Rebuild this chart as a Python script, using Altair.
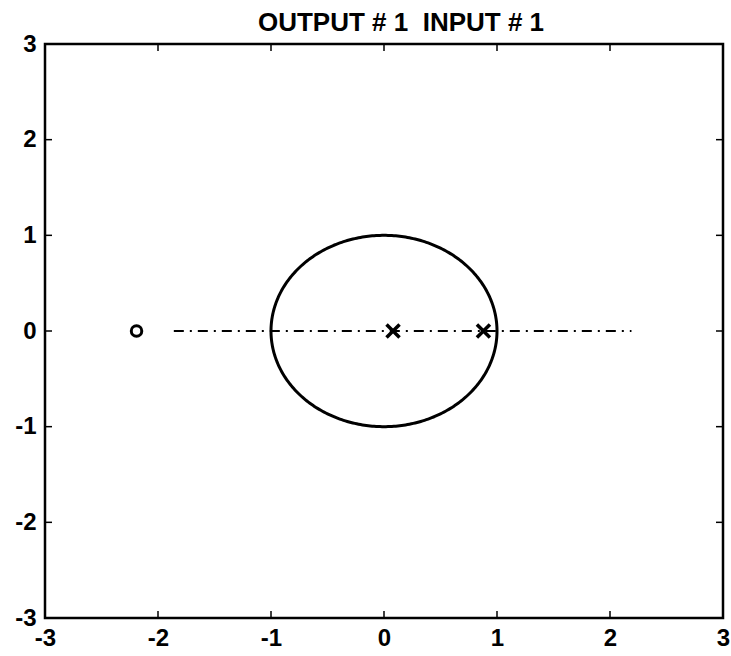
import altair as alt
import numpy as np
import pandas as pd

# Pole-zero map of the transfer function (real part, imaginary part)
pole_re = [0.08, 0.88]
pole_im = [0.0, 0.0]
zero_re = [-2.19]
zero_im = [0.0]

# dash-dot segment drawn along the real axis
segment_re = [-1.86, 2.19]
segment_im = [0.0, 0.0]

tick_values = [-3, -2, -1, 0, 1, 2, 3]
inner_ticks = [-2, -1, 0, 1, 2]

W, H = 678, 574
FONT = "Liberation Sans"

poles = pd.DataFrame({"re": pole_re, "im": pole_im})
zeros = pd.DataFrame({"re": zero_re, "im": zero_im})
segment = pd.DataFrame({"re": segment_re, "im": segment_im, "k": [0, 1]})

# unit circle
theta = np.linspace(0.0, 2.0 * np.pi, 361)
circle = pd.DataFrame({"re": np.cos(theta), "im": np.sin(theta), "k": np.arange(361)})
ticks_df = pd.DataFrame({"v": inner_ticks})

xscale = alt.Scale(domain=[-3, 3], nice=False, zero=False)
yscale = alt.Scale(domain=[-3, 3], nice=False, zero=False)

# plain hyphen-minus in the tick labels
label_expr = "'' + datum.value"

xaxis = alt.Axis(values=tick_values, labelExpr=label_expr, title=None, grid=False, domain=False,
                 ticks=False, labelFont=FONT, labelFontSize=24, labelFontWeight="bold",
                 labelColor="black", labelPadding=8, labelFlush=False, labelOverlap=False)
yaxis = alt.Axis(values=tick_values, labelExpr=label_expr, title=None, grid=False, domain=False,
                 ticks=False, labelFont=FONT, labelFontSize=24, labelFontWeight="bold",
                 labelColor="black", labelPadding=9, labelOverlap=False)

unit_circle = alt.Chart(circle).mark_line(color="black", strokeWidth=3).encode(
    x=alt.X("re:Q", scale=xscale, axis=xaxis),
    y=alt.Y("im:Q", scale=yscale, axis=yaxis),
    order="k:Q",
)

real_line = alt.Chart(segment).mark_line(color="black", strokeWidth=1.8,
                                          strokeDash=[10, 6, 2, 6]).encode(
    x=alt.X("re:Q", scale=xscale),
    y=alt.Y("im:Q", scale=yscale),
    order="k:Q",
)

pole_marks = alt.Chart(poles).mark_point(
    shape="M-1,-1L1,1M1,-1L-1,1", size=170, strokeWidth=3.5, color="black",
    filled=False, opacity=1
).encode(x=alt.X("re:Q", scale=xscale), y=alt.Y("im:Q", scale=yscale))

zero_marks = alt.Chart(zeros).mark_point(
    shape="circle", size=110, strokeWidth=3, color="black", filled=False, opacity=1
).encode(x=alt.X("re:Q", scale=xscale), y=alt.Y("im:Q", scale=yscale))

# inward-pointing ticks on all four sides of the frame
tick_len = 7
bottom_ticks = alt.Chart(ticks_df).mark_rule(color="black", strokeWidth=1.5).encode(
    x=alt.X("v:Q", scale=xscale), y=alt.value(H), y2=alt.value(H - tick_len))
top_ticks = alt.Chart(ticks_df).mark_rule(color="black", strokeWidth=1.5).encode(
    x=alt.X("v:Q", scale=xscale), y=alt.value(0), y2=alt.value(tick_len))
left_ticks = alt.Chart(ticks_df).mark_rule(color="black", strokeWidth=1.5).encode(
    y=alt.Y("v:Q", scale=yscale), x=alt.value(0), x2=alt.value(tick_len))
right_ticks = alt.Chart(ticks_df).mark_rule(color="black", strokeWidth=1.5).encode(
    y=alt.Y("v:Q", scale=yscale), x=alt.value(W), x2=alt.value(W - tick_len))

chart = alt.layer(
    unit_circle, real_line, pole_marks, zero_marks,
    bottom_ticks, top_ticks, left_ticks, right_ticks,
).properties(
    width=W,
    height=H,
    title=alt.TitleParams(
        "OUTPUT # 1 \u00a0INPUT # 1",
        font=FONT, fontSize=26, fontWeight="bold", color="black",
        anchor="middle", offset=12, dx=17, dy=16,
    ),
    autosize=alt.AutoSizeParams(type="none"),
    padding={"left": 45, "top": 44, "right": 8, "bottom": 38},
    background="white",
).configure_view(stroke="black", strokeWidth=2.5)

chart.save("out.html", embed_options={"renderer": "svg", "actions": False})
